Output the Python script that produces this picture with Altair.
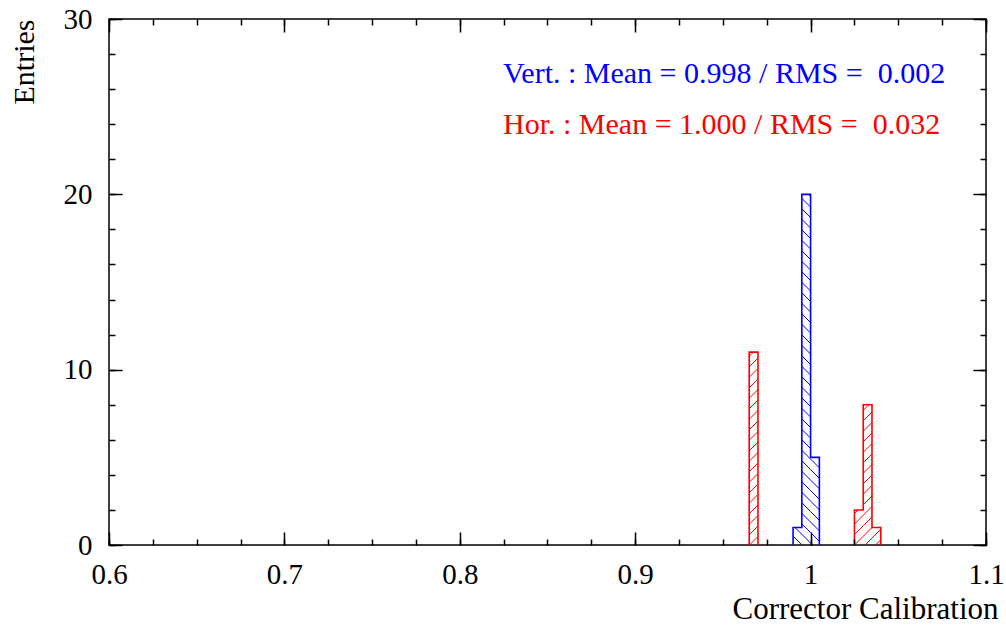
import altair as alt
import pandas as pd
import numpy as np

# ---------------- data ----------------
bin_width = 0.005
vert_bins = [0.990, 0.995, 1.000]
vert_counts = [1, 20, 5]
hor_bins = [0.965, 1.025, 1.030, 1.035]
hor_counts = [11, 2, 8, 1]

x_major = [0.6, 0.7, 0.8, 0.9, 1.0, 1.1]
x_minor = [0.6, 0.625, 0.65, 0.675, 0.7, 0.725, 0.75, 0.775, 0.8, 0.825, 0.85,
           0.875, 0.9, 0.925, 0.95, 0.975, 1.0, 1.025, 1.05, 1.075, 1.1]
y_major = [0, 10, 20, 30]
y_minor = [0, 2, 4, 6, 8, 10, 12, 14, 16, 18, 20, 22, 24, 26, 28, 30]

stat_texts = ["Vert. : Mean = 0.998 / RMS = \u00a00.002",
              "Hor. : Mean = 1.000 / RMS = \u00a00.032"]
series_colors = ["#0000ff", "#ff0000"]

x_title = "Corrector Calibration"
y_title = "Entries"

# ---------------- layout ----------------
W, H = 877, 526
XD = [0.6, 1.1]
YD = [0, 30]
FONT = "Liberation Serif"
FS = 29

pxx = W / (XD[1] - XD[0])
pxy = H / (YD[1] - YD[0])
SP = 10.5  # hatch spacing (px)


def hatch(bins, counts, direction, series):
    rows = []
    for b, c in zip(bins, counts):
        X0 = (b - XD[0]) * pxx
        X1 = (b + bin_width - XD[0]) * pxx
        Hc = c * pxy
        for k in range(-400, 400):
            ks = k * SP
            if direction == "/":
                xs, xe = max(X0, -ks), min(X1, Hc - ks)
                if xe > xs:
                    rows.append((xs, xs + ks, xe, xe + ks))
            else:
                xs, xe = max(X0, ks - Hc), min(X1, ks)
                if xe > xs:
                    rows.append((xs, ks - xs, xe, ks - xe))
    return pd.DataFrame({
        "x": [XD[0] + r[0] / pxx for r in rows],
        "y": [r[1] / pxy for r in rows],
        "x2": [XD[0] + r[2] / pxx for r in rows],
        "y2": [r[3] / pxy for r in rows],
        "series": series,
    })


def outline(bins, counts, series):
    rows = []
    prev_end = None
    cur = []
    runs = []
    for b, c in zip(bins, counts):
        if prev_end is not None and abs(b - prev_end) > 1e-9:
            runs.append(cur)
            cur = []
        cur.append((b, c))
        prev_end = b + bin_width
    runs.append(cur)
    for ri, r in enumerate(runs):
        pts = [(r[0][0], 0)] + [(b, c) for b, c in r] + [(r[-1][0] + bin_width, 0)]
        for oi, (x, y) in enumerate(pts):
            rows.append({"x": x, "y": y, "run": f"{series}{ri}", "o": oi, "series": series})
    return pd.DataFrame(rows)


hatch_df = pd.concat([hatch(vert_bins, vert_counts, "\\", "Vert"),
                      hatch(hor_bins, hor_counts, "/", "Hor")], ignore_index=True)
line_df = pd.concat([outline(vert_bins, vert_counts, "Vert"),
                     outline(hor_bins, hor_counts, "Hor")], ignore_index=True)

xs = alt.Scale(domain=XD, nice=False, zero=False)
ys = alt.Scale(domain=YD, nice=False, zero=False)
cs = alt.Scale(domain=["Vert", "Hor"], range=series_colors)


def tick_axis(orient, offset, values, size):
    return alt.Axis(orient=orient, offset=offset, values=values, tickSize=size,
                    labels=False, domain=False, grid=False, title=None, ticks=True,
                    tickColor="black", tickWidth=1.5, zindex=1)


x_label_axis = alt.Axis(orient="bottom", values=x_major, format=".1~f", ticks=False,
                        domain=False, grid=False, labelFont=FONT, labelFontSize=FS,
                        labelColor="black", labelPadding=15, title=x_title,
                        titleFont=FONT, titleFontSize=31, titleFontWeight="normal",
                        titleColor="black", titleX=889, titleY=73, titleAlign="right",
                        titleBaseline="alphabetic", labelFlush=False, labelOverlap=False)
y_label_axis = alt.Axis(orient="left", values=y_major, format="d", ticks=False,
                        domain=False, grid=False, labelFont=FONT, labelFontSize=FS,
                        labelColor="black", labelPadding=17, title=y_title,
                        titleFont=FONT, titleFontSize=30, titleFontWeight="normal",
                        titleColor="black", titleX=-76, titleY=0, titleAngle=270,
                        titleAlign="right", titleBaseline="alphabetic",
                        labelFlush=False, labelOverlap=False)

hatch_layer = alt.Chart(hatch_df).mark_rule(strokeWidth=1).encode(
    x=alt.X("x:Q", scale=xs, axis=x_label_axis),
    x2="x2:Q",
    y=alt.Y("y:Q", scale=ys, axis=y_label_axis),
    y2="y2:Q",
    color=alt.Color("series:N", scale=cs, legend=None),
)

line_layer = alt.Chart(line_df).mark_line(interpolate="step-after", strokeWidth=1.6).encode(
    x=alt.X("x:Q", scale=xs, axis=tick_axis("top", -H, x_major, 13)),
    y=alt.Y("y:Q", scale=ys, axis=tick_axis("right", -W, y_major, 13)),
    color=alt.Color("series:N", scale=cs, legend=None),
    detail="run:N",
    order="o:Q",
)


def dummy(xax, yax):
    return alt.Chart(line_df).mark_point(opacity=0).encode(
        x=alt.X("x:Q", scale=xs, axis=xax),
        y=alt.Y("y:Q", scale=ys, axis=yax),
    )


d1 = dummy(tick_axis("top", -H, x_minor, 6), tick_axis("right", -W, y_minor, 6))
d2 = dummy(tick_axis("bottom", -H, x_major, 13), tick_axis("left", -W, y_major, 13))
d3 = dummy(tick_axis("bottom", -H, x_minor, 6), tick_axis("left", -W, y_minor, 6))

text_df = pd.DataFrame({"t": stat_texts, "c": series_colors})
t1 = alt.Chart(text_df.iloc[[0]]).mark_text(
    font=FONT, fontSize=30, align="left", baseline="alphabetic", color=series_colors[0]
).encode(text="t:N", x=alt.value(394), y=alt.value(64))
t2 = alt.Chart(text_df.iloc[[1]]).mark_text(
    font=FONT, fontSize=30, align="left", baseline="alphabetic", color=series_colors[1]
).encode(text="t:N", x=alt.value(394), y=alt.value(115))

chart = alt.layer(hatch_layer, line_layer, d1, d2, d3, t1, t2).resolve_scale(
    x="shared", y="shared"
).resolve_axis(
    x="independent", y="independent"
).properties(
    width=W, height=H,
    autosize=alt.AutoSizeParams(type="none"),
    padding={"left": 109, "top": 19, "right": 20, "bottom": 90},
    background="white",
).configure_view(stroke="black", strokeWidth=1.5)

chart.save("out.html", embed_options={"renderer": "svg", "actions": False})
